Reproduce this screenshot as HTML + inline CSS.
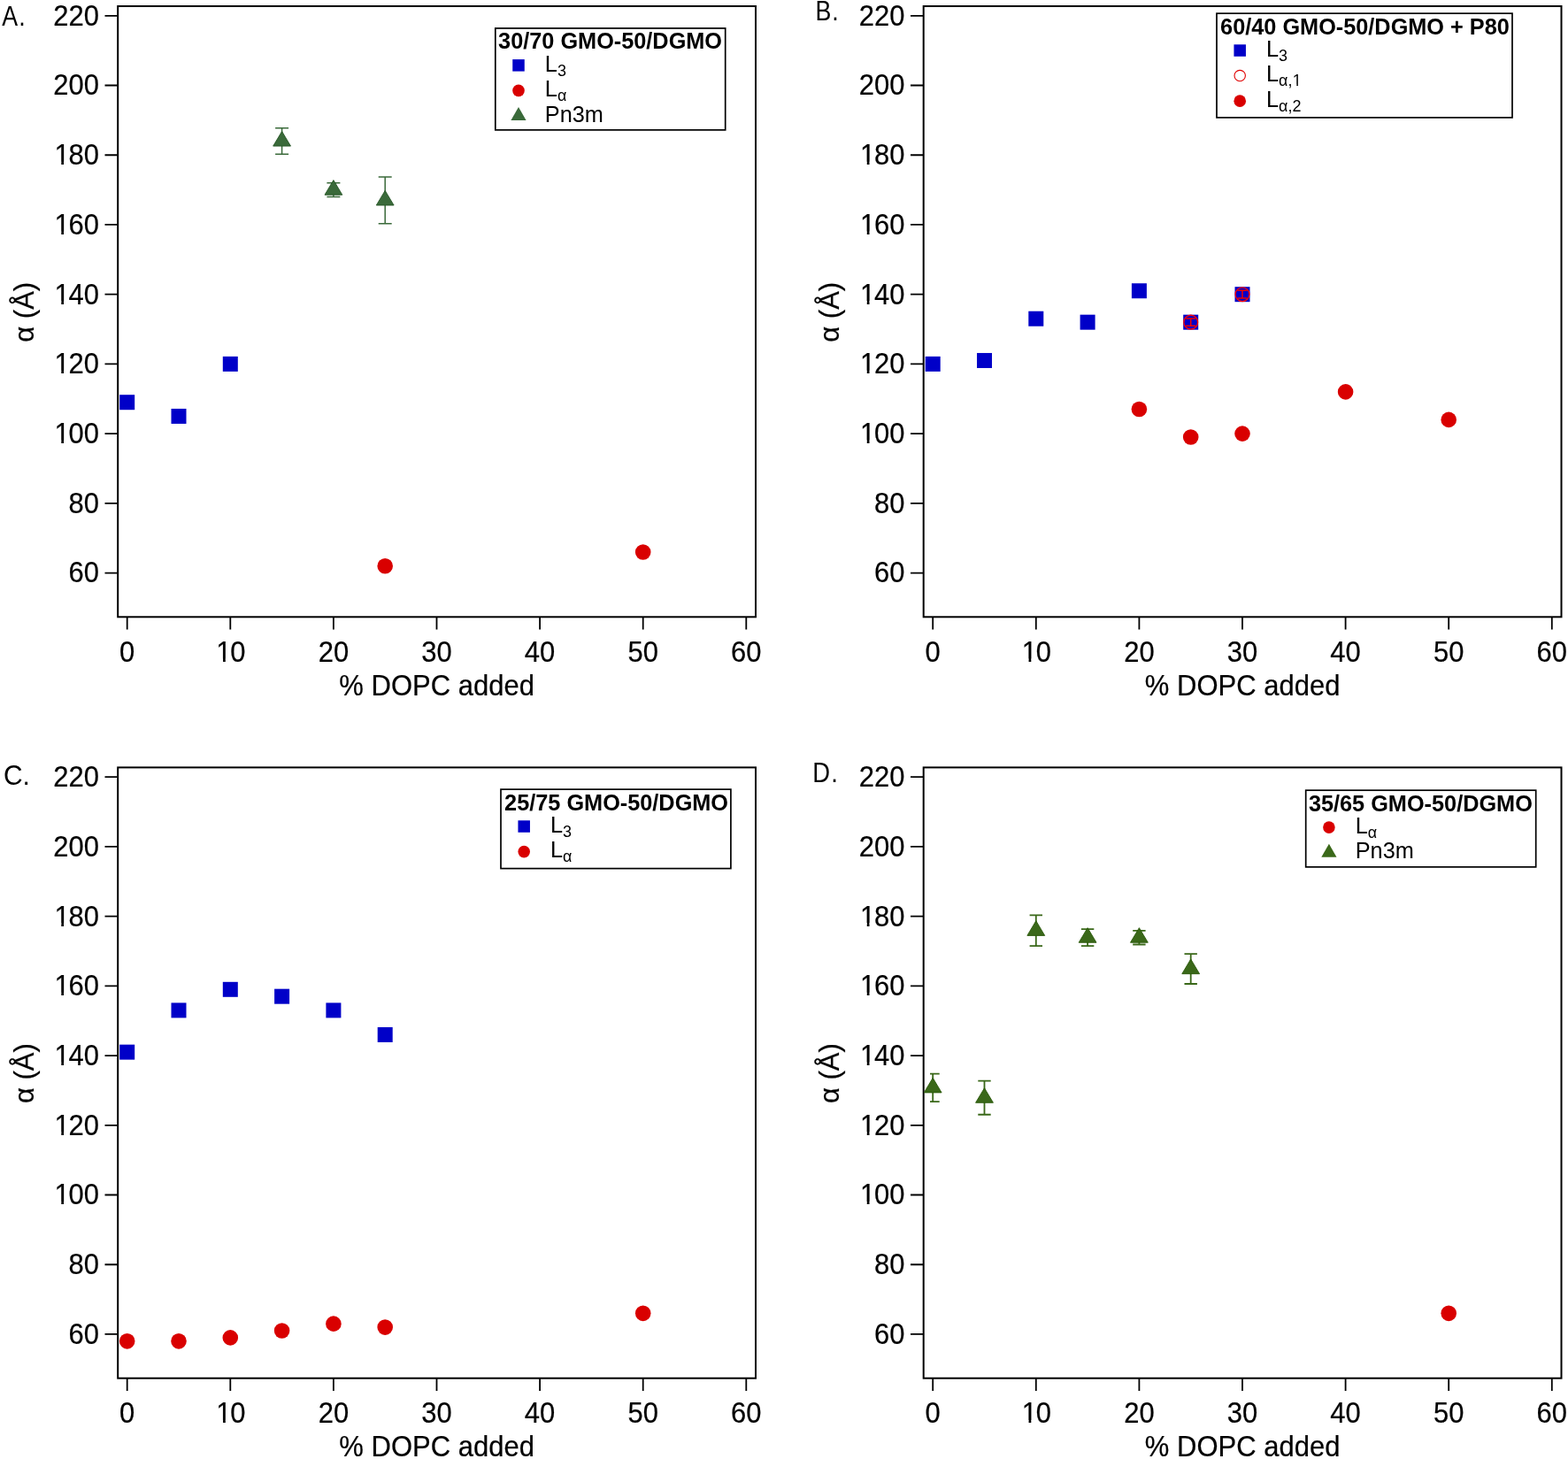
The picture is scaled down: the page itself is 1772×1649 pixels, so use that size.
<!DOCTYPE html>
<html><head><meta charset="utf-8"><title>Figure</title>
<style>
html,body{margin:0;padding:0;background:#fff;}
body{width:1772px;height:1649px;overflow:hidden;}
svg{display:block;font-family:'Liberation Sans', Arial, Helvetica, sans-serif;}
</style></head><body>
<svg width="1772" height="1649" viewBox="0 0 1772 1649">
<defs><clipPath id="c1y"><path clip-rule="evenodd" fill-rule="evenodd" d="M-400 -400H400V400H-400ZM2.56 -3.32H9V2H2.56ZM11.74 -3.32H17.88V2H11.74Z"/></clipPath><clipPath id="c1x"><path clip-rule="evenodd" fill-rule="evenodd" d="M-400 -400H400V400H-400ZM2.56 -3.32H9V2H2.56ZM11.74 -3.32H17.88V2H11.74Z"/></clipPath><clipPath id="c1l"><path clip-rule="evenodd" fill-rule="evenodd" d="M-400 -400H400V400H-400ZM30.55 2.46H34.3V6.8H30.55ZM35.9 2.46H39.21V6.8H35.9Z"/></clipPath></defs>
<rect width="1772" height="1649" fill="#fff"/>
<g>
<rect x="133.2" y="7" width="720.8" height="690.3" fill="none" stroke="#000" stroke-width="2.0"/>
<path d="M118.5 647.56H133.2M118.5 568.84H133.2M118.5 490.12H133.2M118.5 411.4H133.2M118.5 332.68H133.2M118.5 253.96H133.2M118.5 175.24H133.2M118.5 96.52H133.2M118.5 17.8H133.2M143.7 697.3V711.5M260.3 697.3V711.5M376.9 697.3V711.5M493.5 697.3V711.5M610.1 697.3V711.5M726.7 697.3V711.5M843.3 697.3V711.5" stroke="#000" stroke-width="1.8" fill="none"/>
<g font-size="31" fill="#000" stroke="#000" stroke-width="0.22">
<text transform="translate(77.52 658.46) scale(1 1.045)">60</text>
<text transform="translate(77.52 579.74) scale(1 1.045)">80</text>
<text transform="translate(60.28 501.02) scale(1 1.045)" clip-path="url(#c1y)"><tspan dx="1.2">1</tspan><tspan dx="-1.2">00</tspan></text>
<text transform="translate(60.28 422.3) scale(1 1.045)" clip-path="url(#c1y)"><tspan dx="1.2">1</tspan><tspan dx="-1.2">20</tspan></text>
<text transform="translate(60.28 343.58) scale(1 1.045)" clip-path="url(#c1y)"><tspan dx="1.2">1</tspan><tspan dx="-1.2">40</tspan></text>
<text transform="translate(60.28 264.86) scale(1 1.045)" clip-path="url(#c1y)"><tspan dx="1.2">1</tspan><tspan dx="-1.2">60</tspan></text>
<text transform="translate(60.28 186.14) scale(1 1.045)" clip-path="url(#c1y)"><tspan dx="1.2">1</tspan><tspan dx="-1.2">80</tspan></text>
<text transform="translate(60.28 107.42) scale(1 1.045)">200</text>
<text transform="translate(60.28 28.7) scale(1 1.045)">220</text>
<text transform="translate(135.08 748) scale(1 1.045)">0</text>
<text transform="translate(243.06 748) scale(1 1.045)" clip-path="url(#c1x)"><tspan dx="1.2">1</tspan><tspan dx="-1.2">0</tspan></text>
<text transform="translate(359.66 748) scale(1 1.045)">20</text>
<text transform="translate(476.26 748) scale(1 1.045)">30</text>
<text transform="translate(592.86 748) scale(1 1.045)">40</text>
<text transform="translate(709.46 748) scale(1 1.045)">50</text>
<text transform="translate(826.06 748) scale(1 1.045)">60</text>
<text transform="translate(493.6 786) scale(1 1.055)" text-anchor="middle">% DOPC added</text>
<text transform="translate(37.7 352.75) rotate(-90)" text-anchor="middle">α (Å)</text>
<text transform="translate(2.3 29.2) scale(0.85 1)" font-size="31.5" stroke="none" letter-spacing="1.2">A.</text>
</g>
<rect x="135.2" y="446.2" width="17" height="17" fill="#0000C8"/>
<rect x="193.5" y="461.94" width="17" height="17" fill="#0000C8"/>
<rect x="251.8" y="402.9" width="17" height="17" fill="#0000C8"/>
<circle cx="435.2" cy="639.69" r="8.8" fill="#D90000"/>
<circle cx="726.7" cy="623.94" r="8.8" fill="#D90000"/>
<path d="M318.6 144.81V174.18M311.1 144.81H326.1M311.1 174.18H326.1" stroke="#3A6A3A" stroke-width="1.5" fill="none"/>
<polygon points="318.6,148.5 328.5,165.1 308.7,165.1" fill="#3A6A3A" stroke="#245524" stroke-width="0.9" stroke-linejoin="miter"/>
<path d="M376.9 206.73V222.47M369.4 206.73H384.4M369.4 222.47H384.4" stroke="#3A6A3A" stroke-width="1.5" fill="none"/>
<polygon points="376.9,203.6 386.8,220.2 367,220.2" fill="#3A6A3A" stroke="#245524" stroke-width="0.9" stroke-linejoin="miter"/>
<path d="M435.2 200.04V252.78M427.7 200.04H442.7M427.7 252.78H442.7" stroke="#3A6A3A" stroke-width="1.5" fill="none"/>
<polygon points="435.2,215.41 445.1,232.01 425.3,232.01" fill="#3A6A3A" stroke="#245524" stroke-width="0.9" stroke-linejoin="miter"/>
<rect x="559.8" y="31.95" width="259.9" height="114.95" fill="#fff" stroke="#000" stroke-width="1.7"/>
<text transform="translate(563.1 55.35) scale(1 1.04)" font-weight="bold" font-size="25.3">30/70 GMO-50/DGMO</text>
<rect x="579.25" y="67.1" width="13.5" height="13.5" fill="#0000C8"/>
<text transform="translate(615.8 80.65) scale(1 1.04)" font-size="25.3">L<tspan font-size="18" dy="4.8">3</tspan></text>
<circle cx="586" cy="102.4" r="6.8" fill="#D90000"/>
<text transform="translate(615.8 109.2) scale(1 1.04)" font-size="25.3">L<tspan font-size="18" dy="4.8">α</tspan></text>
<polygon points="586,120.95 594.6,135.95 577.4,135.95" fill="#3A6A3A"/>
<text transform="translate(615.8 137.75) scale(1 1.04)" font-size="25.3">Pn3m</text>
</g>
<g transform="translate(910.5 0)">
<rect x="133.2" y="7" width="720.8" height="690.3" fill="none" stroke="#000" stroke-width="2.0"/>
<path d="M118.5 647.56H133.2M118.5 568.84H133.2M118.5 490.12H133.2M118.5 411.4H133.2M118.5 332.68H133.2M118.5 253.96H133.2M118.5 175.24H133.2M118.5 96.52H133.2M118.5 17.8H133.2M143.7 697.3V711.5M260.3 697.3V711.5M376.9 697.3V711.5M493.5 697.3V711.5M610.1 697.3V711.5M726.7 697.3V711.5M843.3 697.3V711.5" stroke="#000" stroke-width="1.8" fill="none"/>
<g font-size="31" fill="#000" stroke="#000" stroke-width="0.22">
<text transform="translate(77.52 658.46) scale(1 1.045)">60</text>
<text transform="translate(77.52 579.74) scale(1 1.045)">80</text>
<text transform="translate(60.28 501.02) scale(1 1.045)" clip-path="url(#c1y)"><tspan dx="1.2">1</tspan><tspan dx="-1.2">00</tspan></text>
<text transform="translate(60.28 422.3) scale(1 1.045)" clip-path="url(#c1y)"><tspan dx="1.2">1</tspan><tspan dx="-1.2">20</tspan></text>
<text transform="translate(60.28 343.58) scale(1 1.045)" clip-path="url(#c1y)"><tspan dx="1.2">1</tspan><tspan dx="-1.2">40</tspan></text>
<text transform="translate(60.28 264.86) scale(1 1.045)" clip-path="url(#c1y)"><tspan dx="1.2">1</tspan><tspan dx="-1.2">60</tspan></text>
<text transform="translate(60.28 186.14) scale(1 1.045)" clip-path="url(#c1y)"><tspan dx="1.2">1</tspan><tspan dx="-1.2">80</tspan></text>
<text transform="translate(60.28 107.42) scale(1 1.045)">200</text>
<text transform="translate(60.28 28.7) scale(1 1.045)">220</text>
<text transform="translate(135.08 748) scale(1 1.045)">0</text>
<text transform="translate(243.06 748) scale(1 1.045)" clip-path="url(#c1x)"><tspan dx="1.2">1</tspan><tspan dx="-1.2">0</tspan></text>
<text transform="translate(359.66 748) scale(1 1.045)">20</text>
<text transform="translate(476.26 748) scale(1 1.045)">30</text>
<text transform="translate(592.86 748) scale(1 1.045)">40</text>
<text transform="translate(709.46 748) scale(1 1.045)">50</text>
<text transform="translate(826.06 748) scale(1 1.045)">60</text>
<text transform="translate(493.6 786) scale(1 1.055)" text-anchor="middle">% DOPC added</text>
<text transform="translate(37.7 352.75) rotate(-90)" text-anchor="middle">α (Å)</text>
<text transform="translate(10.9 23.2) scale(0.85 1)" font-size="31.5" stroke="none" letter-spacing="1.2">B.</text>
</g>
<rect x="135.2" y="402.9" width="17" height="17" fill="#0000C8"/>
<rect x="193.5" y="398.96" width="17" height="17" fill="#0000C8"/>
<rect x="251.8" y="351.73" width="17" height="17" fill="#0000C8"/>
<rect x="310.1" y="355.67" width="17" height="17" fill="#0000C8"/>
<rect x="368.4" y="320.24" width="17" height="17" fill="#0000C8"/>
<rect x="426.7" y="355.67" width="17" height="17" fill="#0000C8"/>
<rect x="485" y="324.18" width="17" height="17" fill="#0000C8"/>
<circle cx="376.9" cy="462.57" r="8.8" fill="#D90000"/>
<circle cx="435.2" cy="494.06" r="8.8" fill="#D90000"/>
<circle cx="493.5" cy="490.12" r="8.8" fill="#D90000"/>
<circle cx="610.1" cy="442.89" r="8.8" fill="#D90000"/>
<circle cx="726.7" cy="474.38" r="8.8" fill="#D90000"/>
<circle cx="435.2" cy="364.17" r="7.9" fill="none" stroke="#FF0000" stroke-width="1.3"/>
<path d="M435.2 360.04V368.3M429.6 360.04H440.8M429.6 368.3H440.8" stroke="#F00000" stroke-width="1.5" fill="none"/>
<circle cx="493.5" cy="332.68" r="7.9" fill="none" stroke="#FF0000" stroke-width="1.3"/>
<path d="M493.5 328.27V337.09M487.9 328.27H499.1M487.9 337.09H499.1" stroke="#F00000" stroke-width="1.5" fill="none"/>
<rect x="464.5" y="15.15" width="334" height="117.75" fill="#fff" stroke="#000" stroke-width="1.7"/>
<text transform="translate(468.6 38.55) scale(1 1.04)" font-weight="bold" font-size="25.3">60/40 GMO-50/DGMO + P80</text>
<rect x="483.95" y="50.3" width="13.5" height="13.5" fill="#0000C8"/>
<text transform="translate(520.5 63.85) scale(1 1.04)" font-size="25.3">L<tspan font-size="18" dy="4.8">3</tspan></text>
<circle cx="490.7" cy="85.6" r="6.2" fill="none" stroke="#E00000" stroke-width="1.1"/>
<text transform="translate(520.5 92.4) scale(1 1.04)" font-size="25.3" clip-path="url(#c1l)">L<tspan font-size="18" dy="4.8">α,</tspan><tspan font-size="18" dx="0.3">1</tspan></text>
<circle cx="490.7" cy="114.15" r="6.8" fill="#D90000"/>
<text transform="translate(520.5 120.95) scale(1 1.04)" font-size="25.3">L<tspan font-size="18" dy="4.8">α,2</tspan></text>
</g>
<g transform="translate(0 860.4)">
<rect x="133.2" y="7" width="720.8" height="690.3" fill="none" stroke="#000" stroke-width="2.0"/>
<path d="M118.5 647.56H133.2M118.5 568.84H133.2M118.5 490.12H133.2M118.5 411.4H133.2M118.5 332.68H133.2M118.5 253.96H133.2M118.5 175.24H133.2M118.5 96.52H133.2M118.5 17.8H133.2M143.7 697.3V711.5M260.3 697.3V711.5M376.9 697.3V711.5M493.5 697.3V711.5M610.1 697.3V711.5M726.7 697.3V711.5M843.3 697.3V711.5" stroke="#000" stroke-width="1.8" fill="none"/>
<g font-size="31" fill="#000" stroke="#000" stroke-width="0.22">
<text transform="translate(77.52 658.46) scale(1 1.045)">60</text>
<text transform="translate(77.52 579.74) scale(1 1.045)">80</text>
<text transform="translate(60.28 501.02) scale(1 1.045)" clip-path="url(#c1y)"><tspan dx="1.2">1</tspan><tspan dx="-1.2">00</tspan></text>
<text transform="translate(60.28 422.3) scale(1 1.045)" clip-path="url(#c1y)"><tspan dx="1.2">1</tspan><tspan dx="-1.2">20</tspan></text>
<text transform="translate(60.28 343.58) scale(1 1.045)" clip-path="url(#c1y)"><tspan dx="1.2">1</tspan><tspan dx="-1.2">40</tspan></text>
<text transform="translate(60.28 264.86) scale(1 1.045)" clip-path="url(#c1y)"><tspan dx="1.2">1</tspan><tspan dx="-1.2">60</tspan></text>
<text transform="translate(60.28 186.14) scale(1 1.045)" clip-path="url(#c1y)"><tspan dx="1.2">1</tspan><tspan dx="-1.2">80</tspan></text>
<text transform="translate(60.28 107.42) scale(1 1.045)">200</text>
<text transform="translate(60.28 28.7) scale(1 1.045)">220</text>
<text transform="translate(135.08 748) scale(1 1.045)">0</text>
<text transform="translate(243.06 748) scale(1 1.045)" clip-path="url(#c1x)"><tspan dx="1.2">1</tspan><tspan dx="-1.2">0</tspan></text>
<text transform="translate(359.66 748) scale(1 1.045)">20</text>
<text transform="translate(476.26 748) scale(1 1.045)">30</text>
<text transform="translate(592.86 748) scale(1 1.045)">40</text>
<text transform="translate(709.46 748) scale(1 1.045)">50</text>
<text transform="translate(826.06 748) scale(1 1.045)">60</text>
<text transform="translate(493.6 786) scale(1 1.055)" text-anchor="middle">% DOPC added</text>
<text transform="translate(37.7 352.75) rotate(-90)" text-anchor="middle">α (Å)</text>
<text transform="translate(4 27) scale(0.95 1)" font-size="31.5" stroke="none" letter-spacing="0">C.</text>
</g>
<rect x="135.2" y="320.24" width="17" height="17" fill="#0000C8"/>
<rect x="193.5" y="273.01" width="17" height="17" fill="#0000C8"/>
<rect x="251.8" y="249.4" width="17" height="17" fill="#0000C8"/>
<rect x="310.1" y="257.27" width="17" height="17" fill="#0000C8"/>
<rect x="368.4" y="273.01" width="17" height="17" fill="#0000C8"/>
<rect x="426.7" y="300.56" width="17" height="17" fill="#0000C8"/>
<circle cx="143.7" cy="655.43" r="8.8" fill="#D90000"/>
<circle cx="202" cy="655.43" r="8.8" fill="#D90000"/>
<circle cx="260.3" cy="651.5" r="8.8" fill="#D90000"/>
<circle cx="318.6" cy="643.62" r="8.8" fill="#D90000"/>
<circle cx="376.9" cy="635.75" r="8.8" fill="#D90000"/>
<circle cx="435.2" cy="639.69" r="8.8" fill="#D90000"/>
<circle cx="726.7" cy="623.94" r="8.8" fill="#D90000"/>
<rect x="566" y="31.75" width="259.9" height="89.45" fill="#fff" stroke="#000" stroke-width="1.7"/>
<text transform="translate(570.1 55.15) scale(1 1.04)" font-weight="bold" font-size="25.3">25/75 GMO-50/DGMO</text>
<rect x="585.45" y="66.9" width="13.5" height="13.5" fill="#0000C8"/>
<text transform="translate(622 80.45) scale(1 1.04)" font-size="25.3">L<tspan font-size="18" dy="4.8">3</tspan></text>
<circle cx="592.2" cy="102.2" r="6.8" fill="#D90000"/>
<text transform="translate(622 109) scale(1 1.04)" font-size="25.3">L<tspan font-size="18" dy="4.8">α</tspan></text>
</g>
<g transform="translate(910.5 860.4)">
<rect x="133.2" y="7" width="720.8" height="690.3" fill="none" stroke="#000" stroke-width="2.0"/>
<path d="M118.5 647.56H133.2M118.5 568.84H133.2M118.5 490.12H133.2M118.5 411.4H133.2M118.5 332.68H133.2M118.5 253.96H133.2M118.5 175.24H133.2M118.5 96.52H133.2M118.5 17.8H133.2M143.7 697.3V711.5M260.3 697.3V711.5M376.9 697.3V711.5M493.5 697.3V711.5M610.1 697.3V711.5M726.7 697.3V711.5M843.3 697.3V711.5" stroke="#000" stroke-width="1.8" fill="none"/>
<g font-size="31" fill="#000" stroke="#000" stroke-width="0.22">
<text transform="translate(77.52 658.46) scale(1 1.045)">60</text>
<text transform="translate(77.52 579.74) scale(1 1.045)">80</text>
<text transform="translate(60.28 501.02) scale(1 1.045)" clip-path="url(#c1y)"><tspan dx="1.2">1</tspan><tspan dx="-1.2">00</tspan></text>
<text transform="translate(60.28 422.3) scale(1 1.045)" clip-path="url(#c1y)"><tspan dx="1.2">1</tspan><tspan dx="-1.2">20</tspan></text>
<text transform="translate(60.28 343.58) scale(1 1.045)" clip-path="url(#c1y)"><tspan dx="1.2">1</tspan><tspan dx="-1.2">40</tspan></text>
<text transform="translate(60.28 264.86) scale(1 1.045)" clip-path="url(#c1y)"><tspan dx="1.2">1</tspan><tspan dx="-1.2">60</tspan></text>
<text transform="translate(60.28 186.14) scale(1 1.045)" clip-path="url(#c1y)"><tspan dx="1.2">1</tspan><tspan dx="-1.2">80</tspan></text>
<text transform="translate(60.28 107.42) scale(1 1.045)">200</text>
<text transform="translate(60.28 28.7) scale(1 1.045)">220</text>
<text transform="translate(135.08 748) scale(1 1.045)">0</text>
<text transform="translate(243.06 748) scale(1 1.045)" clip-path="url(#c1x)"><tspan dx="1.2">1</tspan><tspan dx="-1.2">0</tspan></text>
<text transform="translate(359.66 748) scale(1 1.045)">20</text>
<text transform="translate(476.26 748) scale(1 1.045)">30</text>
<text transform="translate(592.86 748) scale(1 1.045)">40</text>
<text transform="translate(709.46 748) scale(1 1.045)">50</text>
<text transform="translate(826.06 748) scale(1 1.045)">60</text>
<text transform="translate(493.6 786) scale(1 1.055)" text-anchor="middle">% DOPC added</text>
<text transform="translate(37.7 352.75) rotate(-90)" text-anchor="middle">α (Å)</text>
<text transform="translate(7.8 23.8) scale(0.87 1)" font-size="31.5" stroke="none" letter-spacing="1.2">D.</text>
</g>
<circle cx="726.7" cy="623.94" r="8.8" fill="#D90000"/>
<path d="M143.7 353.15V384.64M140.5 353.15H151.2M140.5 384.64H151.2" stroke="#3A6819" stroke-width="1.8" fill="none"/>
<polygon points="143.7,357.89 153.6,374.49 133.8,374.49" fill="#3A6819" stroke="#285808" stroke-width="0.9" stroke-linejoin="miter"/>
<path d="M202 361.26V399.36M194.8 361.26H209.2M194.8 399.36H209.2" stroke="#3A6819" stroke-width="1.8" fill="none"/>
<polygon points="202,369.31 211.9,385.91 192.1,385.91" fill="#3A6819" stroke="#285808" stroke-width="0.9" stroke-linejoin="miter"/>
<path d="M260.3 174.06V208.7M253.1 174.06H267.5M253.1 208.7H267.5" stroke="#3A6819" stroke-width="1.8" fill="none"/>
<polygon points="260.3,180.38 270.2,196.98 250.4,196.98" fill="#3A6819" stroke="#285808" stroke-width="0.9" stroke-linejoin="miter"/>
<path d="M318.6 189.8V208.7M311.4 189.8H325.8M311.4 208.7H325.8" stroke="#3A6819" stroke-width="1.8" fill="none"/>
<polygon points="318.6,188.25 328.5,204.85 308.7,204.85" fill="#3A6819" stroke="#285808" stroke-width="0.9" stroke-linejoin="miter"/>
<path d="M376.9 191.38V207.12M369.7 191.38H384.1M369.7 207.12H384.1" stroke="#3A6819" stroke-width="1.8" fill="none"/>
<polygon points="376.9,188.25 386.8,204.85 367,204.85" fill="#3A6819" stroke="#285808" stroke-width="0.9" stroke-linejoin="miter"/>
<path d="M435.2 217.75V251.6M428 217.75H442.4M428 251.6H442.4" stroke="#3A6819" stroke-width="1.8" fill="none"/>
<polygon points="435.2,223.67 445.1,240.27 425.3,240.27" fill="#3A6819" stroke="#285808" stroke-width="0.9" stroke-linejoin="miter"/>
<rect x="565.2" y="32.8" width="260" height="86.7" fill="#fff" stroke="#000" stroke-width="1.7"/>
<text transform="translate(568.4 56.2) scale(1 1.04)" font-weight="bold" font-size="25.3">35/65 GMO-50/DGMO</text>
<circle cx="591.4" cy="74.7" r="6.8" fill="#D90000"/>
<text transform="translate(621.2 81.5) scale(1 1.04)" font-size="25.3">L<tspan font-size="18" dy="4.8">α</tspan></text>
<polygon points="591.4,93.25 600,108.25 582.8,108.25" fill="#3A6819"/>
<text transform="translate(621.2 110.05) scale(1 1.04)" font-size="25.3">Pn3m</text>
</g>
</svg>
</body></html>
